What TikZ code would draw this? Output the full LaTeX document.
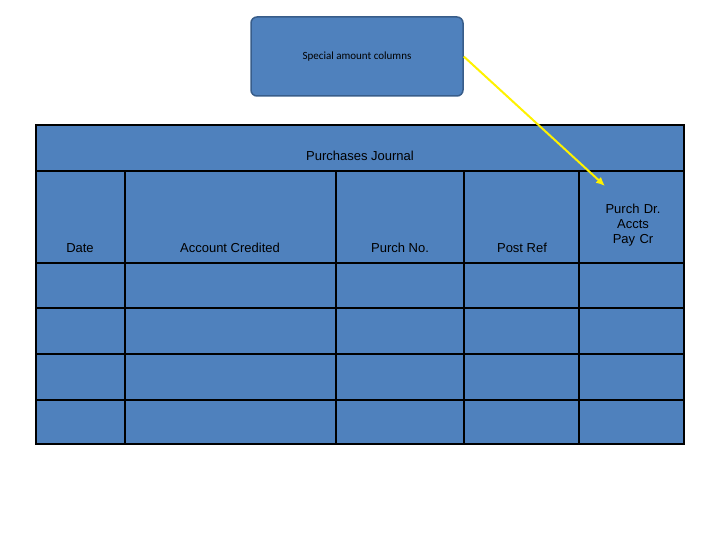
\documentclass[tikz,border=0pt]{standalone}
\usepackage{fontspec}
\setmainfont{Liberation Sans}
\newfontfamily\calib{Carlito}
\usetikzlibrary{arrows.meta}
\begin{document}
\begin{tikzpicture}[x=1pt,y=-1pt,
  cell/.style={draw=black,line width=1.2pt,fill={rgb,255:red,79;green,129;blue,189}},
  lbl/.style={font=\fontsize{13}{15}\selectfont,align=center}]
\useasboundingbox (0,0) rectangle (720,540);
\definecolor{bl}{RGB}{79,129,189}
\definecolor{bd}{RGB}{56,93,138}
\node[draw=bd,line width=1.5pt,fill=bl,rounded corners=6pt,minimum width=212pt,minimum height=79pt,font=\calib\fontsize{11}{13}\selectfont] (call) at (357,56.5) {Special amount columns};
\draw[cell] (36,125) rectangle (684,171);
\node[lbl] (title) at (360,156) {Purchases Journal};
\foreach \x/\X in {36/125,125/336,336/464,464/579,579/684}{
  \foreach \y/\Y in {171/263,263/308,308/354,354/400,400/444}{
    \draw[cell] (\x,\y) rectangle (\X,\Y);}}
\node[lbl] (date) at (80,248) {Date};
\node[lbl] (acc) at (230,248) {Account Credited};
\node[lbl] (pno) at (400,248) {Purch No.};
\node[lbl] (pref) at (522,248) {Post Ref};
\node[lbl,text width=100pt] (pdr) at (633,225) {Purch Dr.\\Accts\\Pay Cr};
\coordinate (tip) at (605,186);
\draw[yellow,line width=2pt,-{Latex[length=9pt,width=8pt]}] (call.east) -- (tip);
\end{tikzpicture}
\end{document}
